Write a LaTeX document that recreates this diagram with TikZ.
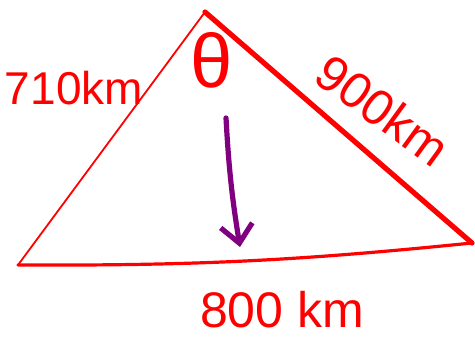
\documentclass[tikz,border=0pt]{standalone}
\usepackage{fontspec}
\setmainfont{Liberation Sans}
\usetikzlibrary{arrows.meta,positioning,calc}
\definecolor{inkred}{HTML}{FF0000}
\definecolor{inkpurple}{HTML}{800080}
\tikzset{
  side/.style={draw=inkred, line cap=round, line join=round, line width=#1},
  dist/.style={text=inkred, inner sep=1pt, font=\fontsize{25}{27}\selectfont},
  angl/.style={text=inkred, inner sep=0pt, font=\fontsize{38}{40}\selectfont},
  drop/.style={draw=inkpurple, line width=2.6pt, line cap=round, -{Straight Barb[length=9pt,width=16pt,line width=2.6pt]}},
}
\begin{document}
\begin{tikzpicture}[x=0.5pt,y=-0.5pt]
  \useasboundingbox (0,0) rectangle (475,343);
  \coordinate (top) at (205,12);
  \coordinate (bl) at (18,265);
  \coordinate (br) at (472,243);
  \draw[side=0.9pt] (top) -- (bl);
  \draw[side=2.6pt] (top) -- (br);
  \draw[side=1.6pt] (bl) to[bend right=3] (br);
  \node[angl] (theta) at (212,60) {θ};
  \coordinate (tail) at (226,118);
  \coordinate (tip) at (240,247);
  \draw[drop] (tail) to[bend right=3] (tip);
  \node[dist, font=\fontsize{23}{25}\selectfont] (left) at (74,88) {710km};
  \node[dist, rotate=-36] (right) at (383,110) {900km};
  \node[dist] (bottom) at (282,310) {800 km};
\end{tikzpicture}
\end{document}
